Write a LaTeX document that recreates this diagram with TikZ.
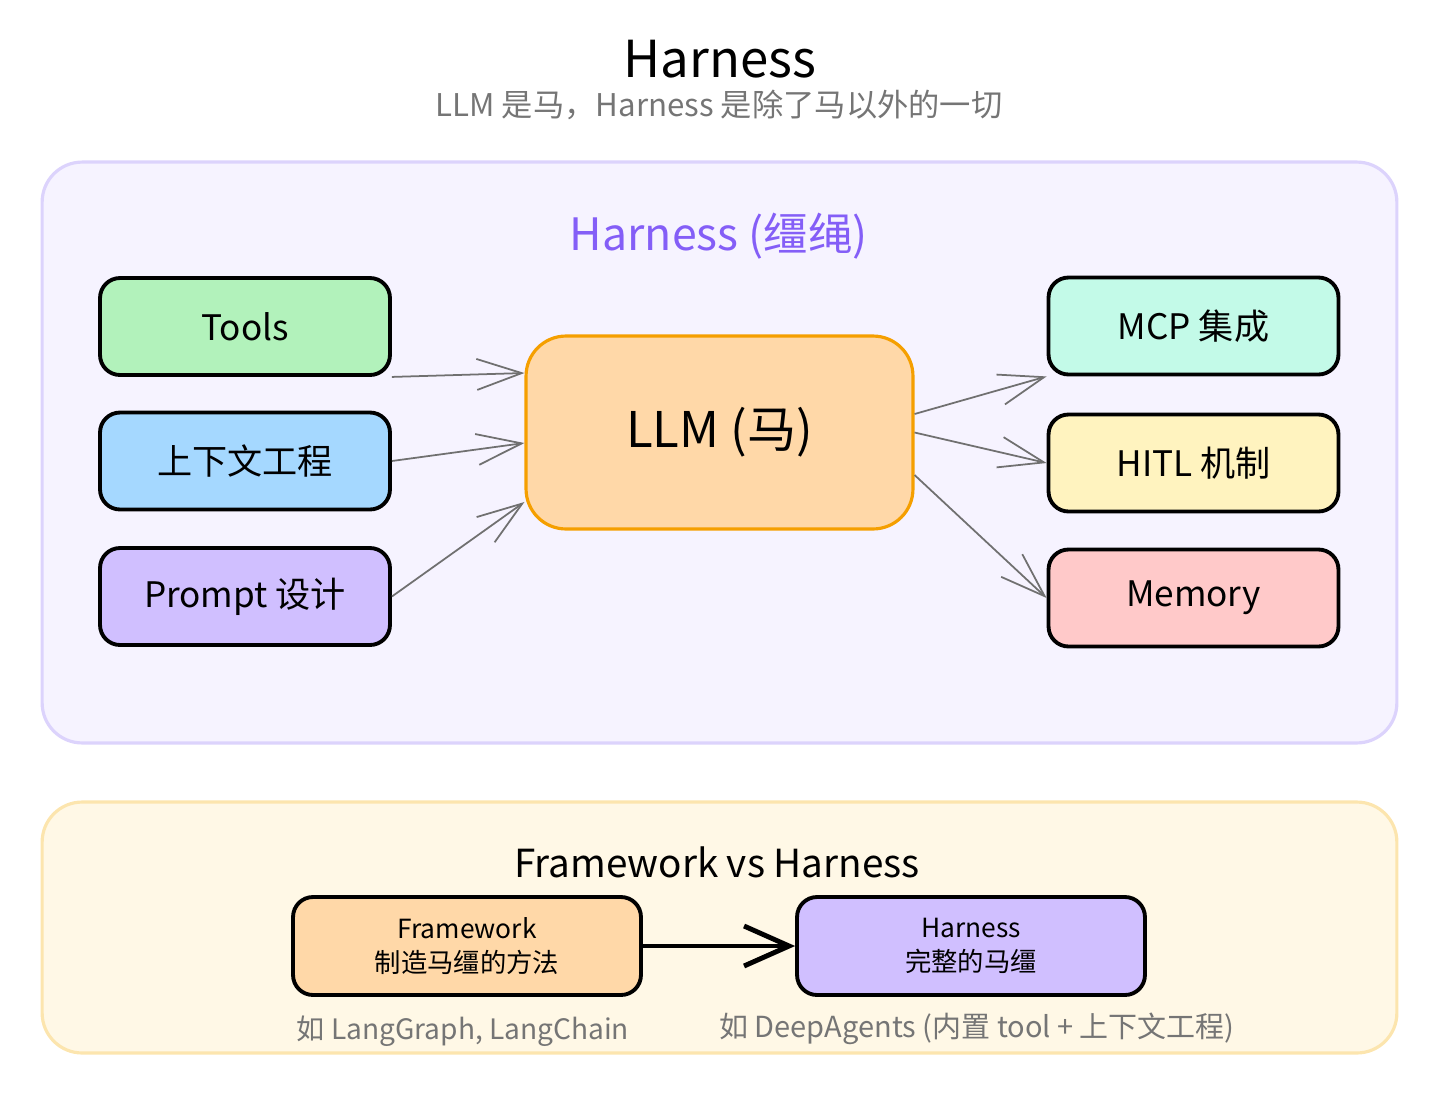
\documentclass[tikz,border=0pt]{standalone}
\usepackage{fontspec}
\setmainfont{Noto Sans CJK SC}
\usepackage{tikz}
\usetikzlibrary{arrows.meta}

\definecolor{toolsfill}{HTML}{B2F2BB}
\definecolor{ctxfill}{HTML}{A5D8FF}
\definecolor{promptfill}{HTML}{D0BFFF}
\definecolor{mcpfill}{HTML}{C3FAE8}
\definecolor{hitlfill}{HTML}{FFF3BF}
\definecolor{memfill}{HTML}{FFC9C9}
\definecolor{llmfill}{HTML}{FFD8A8}
\definecolor{llmline}{HTML}{F59F00}
\definecolor{harnessfill}{HTML}{F6F3FF}
\definecolor{harnessline}{HTML}{DCD3FC}
\definecolor{harnesstext}{HTML}{845EF7}
\definecolor{cmpfill}{HTML}{FFF8E6}
\definecolor{cmpline}{HTML}{FCE5AE}
\definecolor{note}{HTML}{757575}
\definecolor{wire}{HTML}{707070}

\begin{document}
\begin{tikzpicture}[x=0.02cm,y=-0.02cm]
	\tikzstyle{group} = [draw, line width=1.8pt, rounded corners=0.8cm, minimum width=27.1cm, inner sep=0pt]
	\tikzstyle{part} = [draw, line width=2.2pt, rounded corners=0.4cm, minimum width=5.8cm, minimum height=1.94cm, font=\fontsize{20}{24}\selectfont]
	\tikzstyle{side} = [draw, line width=2.2pt, rounded corners=0.4cm, minimum width=6.96cm, minimum height=1.96cm, align=center, font=\fontsize{15}{19}\selectfont]
	\tikzstyle{wire} = [draw=wire, line width=1pt, -{Straight Barb[length=0.9cm,width=0.62cm]}]
	\tikzstyle{note} = [text=note, font=\fontsize{16}{19}\selectfont]

	\useasboundingbox (0,0) rectangle (1440,1093);

	\draw (720,59) node[font=\fontsize{29}{32}\selectfont] (title) {Harness};
	\draw (719,105) node[note, font=\fontsize{17.8}{21}\selectfont] (subtitle) {LLM 是马，Harness 是除了马以外的一切};

	% harness area
	\draw (719.5,452.5) node[group, draw=harnessline, fill=harnessfill, minimum height=11.62cm] (harness) {};
	\draw (719,236) node[text=harnesstext, font=\fontsize{25.4}{29}\selectfont] (harnesstitle) {Harness (缰绳)};

	\draw (719.5,432.5) node[draw=llmline, fill=llmfill, line width=1.8pt, rounded corners=0.8cm, minimum width=7.74cm, minimum height=3.86cm, font=\fontsize{28}{32}\selectfont] (llm) {LLM (马)};

	\draw (245,326.5) node[part, fill=toolsfill] (tools) {Tools};
	\draw (245,461) node[part, fill=ctxfill] (ctx) {上下文工程};
	\draw (245,596.5) node[part, fill=promptfill] (prompt) {Prompt 设计};

	\draw (1193.5,326) node[part, fill=mcpfill] (mcp) {MCP 集成};
	\draw (1193.5,463) node[part, fill=hitlfill] (hitl) {HITL 机制};
	\draw (1193.5,598) node[part, fill=memfill] (memory) {Memory};

	\draw[wire] (tools.south east) -- ([yshift=1.19cm]llm.west);
	\draw[wire] (ctx.east) -- ([yshift=-0.21cm]llm.west);
	\draw[wire] (prompt.east) -- ([yshift=-1.39cm]llm.west);

	\draw[wire] ([yshift=0.37cm]llm.east) -- (mcp.south west);
	\draw[wire] (llm.east) -- (hitl.west);
	\draw[wire] ([yshift=-0.85cm]llm.east) -- (memory.west);

	% framework vs harness
	\draw (719.5,927.5) node[group, draw=cmpline, fill=cmpfill, minimum height=5.02cm] (compare) {};
	\draw (717,862) node[font=\fontsize{22}{26}\selectfont] (comparetitle) {Framework vs Harness};

	\draw (467,946) node[side, fill=llmfill] (framework) {Framework\\制造马缰的方法};
	\draw (971,946) node[side, fill=promptfill] (fullharness) {Harness\\完整的马缰};

	\draw[line width=2.8pt, -{Straight Barb[length=0.9cm,width=0.8cm]}] (framework) -- (fullharness);

	\draw (463,1031) node[note] (frameworknote) {如 LangGraph, LangChain};
	\draw (977,1029) node[note, font=\fontsize{16.5}{19}\selectfont] (harnessnote) {如 DeepAgents (内置 tool + 上下文工程)};
\end{tikzpicture}
\end{document}
